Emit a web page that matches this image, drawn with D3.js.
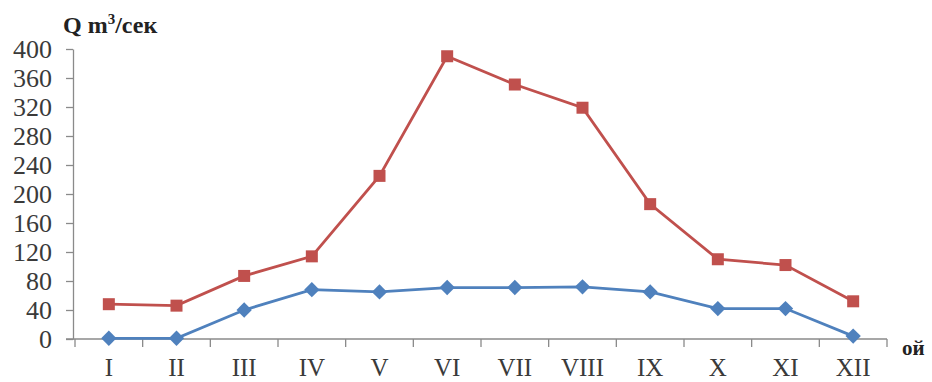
<!DOCTYPE html>
<html>
<head>
<meta charset="utf-8">
<script src="https://cdn.jsdelivr.net/npm/d3@7"></script>
<style>
  body { margin: 0; background: #fff; }
  svg { display: block; }
  svg text { font-family: "Liberation Serif", "DejaVu Serif", serif; }
</style>
</head>
<body>
<div id="chart"></div>
<script>
// months (roman numerals)
const months = ['I', 'II', 'III', 'IV', 'V', 'VI', 'VII', 'VIII', 'IX', 'X', 'XI', 'XII'];
// upper series (red, squares)
const redValues = [48, 46, 87, 114, 225, 390, 351, 319, 186, 110, 102, 52];
// lower series (blue, diamonds)
const blueValues = [1, 1, 40, 68, 65, 71, 71, 72, 65, 42, 42, 4];
const yTicks = [0, 40, 80, 120, 160, 200, 240, 280, 320, 360, 400];

const W = 932, H = 382;
const axisLeft = 73, axisRight = 887;
const y0 = 339, yTop = 49;

const svg = d3.select('#chart').append('svg')
    .attr('width', W)
    .attr('height', H);

const x = d3.scaleBand()
    .domain(months)
    .range([75, axisRight])
    .padding(0);

const y = d3.scaleLinear()
    .domain([0, 400])
    .range([y0, yTop]);

// y axis
const yAxis = svg.append('g')
    .attr('transform', `translate(${axisLeft},0)`)
    .call(d3.axisLeft(y).tickValues(yTicks).tickSize(7).tickSizeOuter(0).tickPadding(14));
yAxis.attr('font-family', null);
yAxis.select('.domain').attr('stroke', '#8a8a8a').attr('stroke-width', 1.3);
yAxis.selectAll('.tick line').attr('stroke', '#8a8a8a').attr('stroke-width', 1.3);
yAxis.selectAll('text')
    .attr('fill', '#3a3a3a')
    .style('font-size', '26px');

// x axis
const xAxisG = svg.append('g').attr('transform', `translate(0,${y0})`);
xAxisG.append('line')
    .attr('x1', axisLeft - 7).attr('x2', axisRight)
    .attr('stroke', '#8a8a8a').attr('stroke-width', 1.3);
const tickPos = months.map(m => x(m)).concat([x(months[months.length - 1]) + x.bandwidth()]);
xAxisG.selectAll('line.tk')
    .data(tickPos)
    .enter().append('line')
    .attr('class', 'tk')
    .attr('x1', d => d).attr('x2', d => d)
    .attr('y1', 0).attr('y2', 8)
    .attr('stroke', '#8a8a8a').attr('stroke-width', 1.3);
xAxisG.selectAll('text')
    .data(months)
    .enter().append('text')
    .attr('x', d => x(d) + x.bandwidth() / 2)
    .attr('y', 37)
    .attr('text-anchor', 'middle')
    .attr('fill', '#3a3a3a')
    .style('font-size', '25px')
    .text(d => d);

// lines
const line = d3.line()
    .x((d, i) => x(months[i]) + x.bandwidth() / 2)
    .y(d => y(d));

svg.append('path')
    .datum(blueValues)
    .attr('d', line)
    .attr('fill', 'none')
    .attr('stroke', '#4F81BD')
    .attr('stroke-width', 2.8);

svg.append('path')
    .datum(redValues)
    .attr('d', line)
    .attr('fill', 'none')
    .attr('stroke', '#C0504D')
    .attr('stroke-width', 2.8);

// markers
const diamond = d3.symbol().type(d3.symbolDiamond2).size(150);
svg.selectAll('path.blue-pt')
    .data(blueValues)
    .enter().append('path')
    .attr('class', 'blue-pt')
    .attr('d', diamond)
    .attr('transform', (d, i) => `translate(${x(months[i]) + x.bandwidth() / 2},${y(d)})`)
    .attr('fill', '#4F81BD');

svg.selectAll('rect.red-pt')
    .data(redValues)
    .enter().append('rect')
    .attr('class', 'red-pt')
    .attr('x', (d, i) => x(months[i]) + x.bandwidth() / 2 - 6)
    .attr('y', d => y(d) - 6)
    .attr('width', 12)
    .attr('height', 12)
    .attr('fill', '#C0504D');

// axis titles
const title = svg.append('text')
    .attr('x', 63)
    .attr('y', 33)
    .attr('fill', '#222')
    .style('font-size', '24px')
    .style('font-weight', 'bold');
title.append('tspan').text('Q m');
title.append('tspan').attr('dy', -9).style('font-size', '15px').text('3');
title.append('tspan').attr('dy', 9).text('/сек');

svg.append('text')
    .attr('x', 902)
    .attr('y', 355)
    .attr('fill', '#222')
    .style('font-size', '21px')
    .style('font-weight', 'bold')
    .text('ой');
</script>
</body>
</html>
